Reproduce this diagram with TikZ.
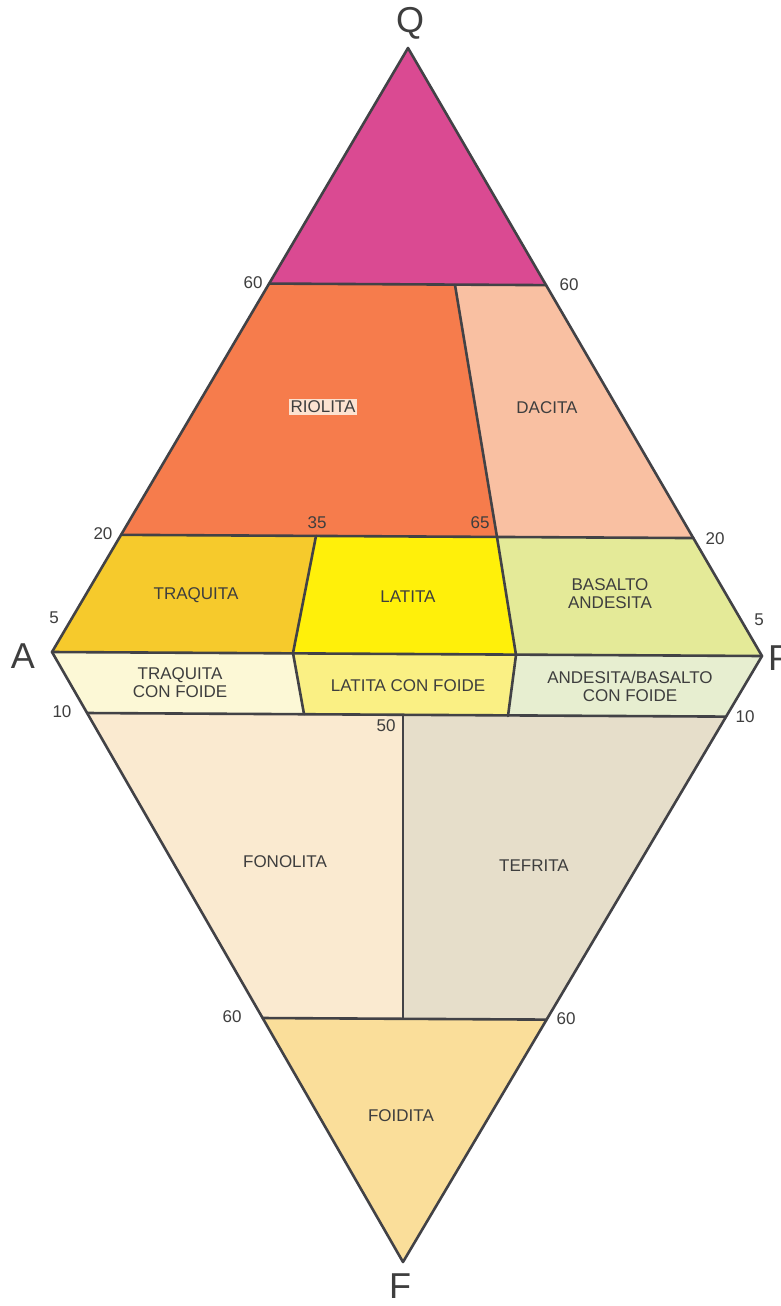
\documentclass[tikz,border=0pt]{standalone}
\usepackage{fontspec}
\setmainfont{Liberation Sans}
\usetikzlibrary{calc}
\definecolor{ink}{RGB}{62,62,62}
\definecolor{edge}{RGB}{66,66,70}
\definecolor{cQ}{RGB}{218,74,146}
\definecolor{cRio}{RGB}{246,124,76}
\definecolor{cRioBox}{RGB}{252,226,208}
\definecolor{cDac}{RGB}{249,192,162}
\definecolor{cTraq}{RGB}{246,202,44}
\definecolor{cLat}{RGB}{255,240,10}
\definecolor{cBas}{RGB}{228,234,152}
\definecolor{cTraqF}{RGB}{252,248,214}
\definecolor{cLatF}{RGB}{250,240,132}
\definecolor{cAndF}{RGB}{231,238,208}
\definecolor{cFon}{RGB}{250,234,208}
\definecolor{cTef}{RGB}{230,222,202}
\definecolor{cFoi}{RGB}{250,222,154}
\tikzset{
  region/.style={fill=#1, draw=none},
  border/.style={draw=edge, line width=2.6pt, line join=round, line cap=round},
  field/.style={text=ink, font=\fontsize{17}{18}\selectfont, align=center, inner sep=1pt},
  tick/.style={text=ink, font=\fontsize{17}{18}\selectfont, inner sep=1pt},
  apex/.style={text=ink, font=\fontsize{36}{38}\selectfont, inner sep=0pt}
}
\begin{document}
\begin{tikzpicture}[x=1pt,y=-1pt]
\useasboundingbox[fill=white] (0,0) rectangle (781,1306);
% corners of the double triangle
\coordinate (Q) at (408,48);
\coordinate (A) at (52,652);
\coordinate (P) at (762,656);
\coordinate (F) at (403,1262);
% points on the outer edges
\coordinate (L60) at ($(Q)!0.39!(A)$);
\coordinate (R60) at ($(Q)!0.39!(P)$);
\coordinate (L20) at ($(Q)!0.806!(A)$);
\coordinate (R20) at ($(Q)!0.806!(P)$);
\coordinate (L10) at ($(A)!0.1!(F)$);
\coordinate (R10) at ($(P)!0.1!(F)$);
\coordinate (LF60) at ($(A)!0.6!(F)$);
\coordinate (RF60) at ($(P)!0.6!(F)$);
% inner division points
\coordinate (d65t) at (455,285);
\coordinate (d65b) at (497,537);
\coordinate (d35t) at (316,536);
\coordinate (d35m) at (293,653);
\coordinate (d65m) at (516,655);
\coordinate (d35l) at (304,714);
\coordinate (d65l) at (508,716);
\coordinate (d50t) at (403,715);
\coordinate (d50b) at (403,1018);

% colour fields
\fill[region=cQ] (Q) -- (L60) -- (R60) -- cycle;
\fill[region=cRio] (L60) -- (d65t) -- (d65b) -- (L20) -- cycle;
\fill[region=cDac] (d65t) -- (R60) -- (R20) -- (d65b) -- cycle;
\fill[region=cTraq] (L20) -- (d35t) -- (d35m) -- (A) -- cycle;
\fill[region=cLat] (d35t) -- (d65b) -- (d65m) -- (d35m) -- cycle;
\fill[region=cBas] (d65b) -- (R20) -- (P) -- (d65m) -- cycle;
\fill[region=cTraqF] (A) -- (d35m) -- (d35l) -- (L10) -- cycle;
\fill[region=cLatF] (d35m) -- (d65m) -- (d65l) -- (d35l) -- cycle;
\fill[region=cAndF] (d65m) -- (P) -- (R10) -- (d65l) -- cycle;
\fill[region=cFon] (L10) -- (d50t) -- (d50b) -- (LF60) -- cycle;
\fill[region=cTef] (d50t) -- (R10) -- (RF60) -- (d50b) -- cycle;
\fill[region=cFoi] (LF60) -- (RF60) -- (F) -- cycle;

% boundaries
\draw[border] (Q) -- (P) -- (F) -- (A) -- cycle;
\draw[border] (L60) -- (R60);
\draw[border] (L20) -- (R20);
\draw[border] (A) -- (P);
\draw[border] (L10) -- (R10);
\draw[border] (LF60) -- (RF60);
\draw[border] (d65t) -- (d65b);
\draw[border] (d35t) -- (d35m) -- (d35l);
\draw[border] (d65b) -- (d65m) -- (d65l);
\draw[border] (d50t) -- (d50b);

% corner letters
\node[apex] (lQ) at (410,23) {Q};
\node[apex] (lA) at (23,656) {A};
\node[apex, anchor=west] (lP) at (768,658) {P};
\node[apex] (lF) at (400,1286) {F};

% scale values
\node[tick] (t60a) at (253,283) {60};
\node[tick] (t60b) at (569,285) {60};
\node[tick] (t20a) at (103,534) {20};
\node[tick] (t20b) at (715,539) {20};
\node[tick] (t35) at (317,523) {35};
\node[tick] (t65) at (480,523) {65};
\node[tick] (t5a) at (54,618) {5};
\node[tick] (t5b) at (759,620) {5};
\node[tick] (t10a) at (62,712) {10};
\node[tick] (t10b) at (745,717) {10};
\node[tick] (t50) at (386,726) {50};
\node[tick] (t60c) at (232,1017) {60};
\node[tick] (t60d) at (566,1019) {60};

% rock names
\node[field, fill=cRioBox, inner sep=2pt] (nRio) at (323,407) {RIOLITA};
\node[field] (nDac) at (547,408) {DACITA};
\node[field] (nTraq) at (196,595) {TRAQUITA};
\node[field] (nLat) at (408,597) {LATITA};
\node[field] (nBas) at (610,594) {BASALTO\\ANDESITA};
\node[field] (nTraqF) at (180,683) {TRAQUITA\\CON FOIDE};
\node[field] (nLatF) at (408,686) {LATITA CON FOIDE};
\node[field] (nAndF) at (630,686) {ANDESITA/BASALTO\\CON FOIDE};
\node[field] (nFon) at (285,862) {FONOLITA};
\node[field] (nTef) at (534,866) {TEFRITA};
\node[field] (nFoi) at (401,1116) {FOIDITA};
\end{tikzpicture}
\end{document}
